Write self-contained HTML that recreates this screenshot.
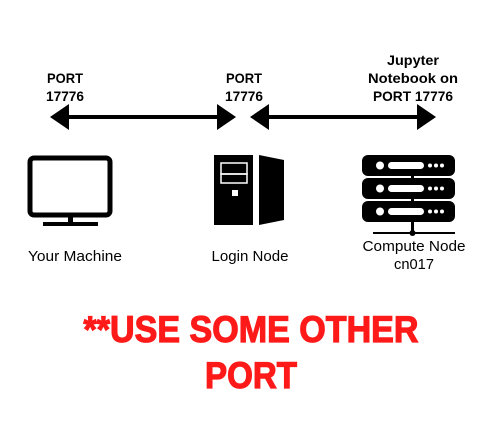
<!DOCTYPE html>
<html><head><meta charset="utf-8"><style>html,body{margin:0;padding:0;background:#fff}svg{display:block}</style></head>
<body>
<svg width="500" height="435" viewBox="0 0 500 435" xmlns="http://www.w3.org/2000/svg">
<g font-family="Liberation Sans, sans-serif" font-weight="bold" font-size="14" fill="#000">
<text x="47" y="83" textLength="36" lengthAdjust="spacingAndGlyphs">PORT</text>
<text x="46" y="101" textLength="38" lengthAdjust="spacingAndGlyphs">17776</text>
<text x="226" y="83" textLength="36" lengthAdjust="spacingAndGlyphs">PORT</text>
<text x="225" y="101" textLength="38" lengthAdjust="spacingAndGlyphs">17776</text>
<text x="413" y="65" text-anchor="middle" textLength="52" lengthAdjust="spacingAndGlyphs">Jupyter</text>
<text x="413" y="83" text-anchor="middle" textLength="90" lengthAdjust="spacingAndGlyphs">Notebook on</text>
<text x="413" y="101" text-anchor="middle" textLength="80" lengthAdjust="spacingAndGlyphs">PORT 17776</text>
</g>
<rect x="66" y="115" width="154" height="4" fill="#000"/>
<polygon points="50,117 69,104 69,130" fill="#000"/>
<polygon points="236,117 217,104 217,130" fill="#000"/>
<rect x="266" y="115" width="154" height="4" fill="#000"/>
<polygon points="250,117 269,104 269,130" fill="#000"/>
<polygon points="436,117 417,104 417,130" fill="#000"/>
<rect x="30" y="158" width="80" height="57" rx="4" fill="none" stroke="#000" stroke-width="5"/>
<rect x="68" y="216" width="5" height="8" fill="#000"/>
<rect x="43" y="222" width="55" height="4" fill="#000"/>
<rect x="214" y="155" width="39" height="70" fill="#000"/>
<rect x="221" y="163" width="26" height="11" fill="none" stroke="#fff" stroke-width="1.5"/>
<rect x="221" y="174" width="26" height="9" fill="none" stroke="#fff" stroke-width="1.5"/>
<rect x="232" y="190" width="6" height="6" fill="#fff"/>
<polygon points="259,155 284,160 284,220 259,225" fill="#000"/>
<g fill="#000">
<rect x="362" y="155" width="93" height="21" rx="6"/>
<rect x="362" y="178" width="93" height="21" rx="6"/>
<rect x="362" y="201" width="93" height="21" rx="6"/>
<rect x="411" y="176" width="3" height="58"/>
<rect x="373" y="232" width="82" height="2"/>
<circle cx="412.5" cy="233" r="3"/>
</g>
<g fill="#fff">
<circle cx="380" cy="165.5" r="4"/><rect x="388" y="162" width="36" height="7" rx="3.5"/>
<circle cx="430" cy="165.5" r="2"/><circle cx="436" cy="165.5" r="2"/><circle cx="442" cy="165.5" r="2"/>
<circle cx="380" cy="188.5" r="4"/><rect x="388" y="185" width="36" height="7" rx="3.5"/>
<circle cx="430" cy="188.5" r="2"/><circle cx="436" cy="188.5" r="2"/><circle cx="442" cy="188.5" r="2"/>
<circle cx="380" cy="211.5" r="4"/><rect x="388" y="208" width="36" height="7" rx="3.5"/>
<circle cx="430" cy="211.5" r="2"/><circle cx="436" cy="211.5" r="2"/><circle cx="442" cy="211.5" r="2"/>
</g>
<g font-family="Liberation Sans, sans-serif" font-size="15" fill="#000" text-anchor="middle">
<text x="75" y="261" textLength="94" lengthAdjust="spacingAndGlyphs">Your Machine</text>
<text x="250" y="261" textLength="77" lengthAdjust="spacingAndGlyphs">Login Node</text>
<text x="414" y="251" textLength="103" lengthAdjust="spacingAndGlyphs">Compute Node</text>
<text x="414" y="269" textLength="40" lengthAdjust="spacingAndGlyphs">cn017</text>
</g>
<g font-family="Liberation Sans, sans-serif" font-weight="bold" font-size="37" fill="#ff1a1a" stroke="#ff1a1a" stroke-width="1.2" text-anchor="middle">
<text x="251" y="342" textLength="335" lengthAdjust="spacingAndGlyphs">**USE SOME OTHER</text>
<text x="251" y="388" textLength="92" lengthAdjust="spacingAndGlyphs">PORT</text>
</g>
</svg>
</body></html>
